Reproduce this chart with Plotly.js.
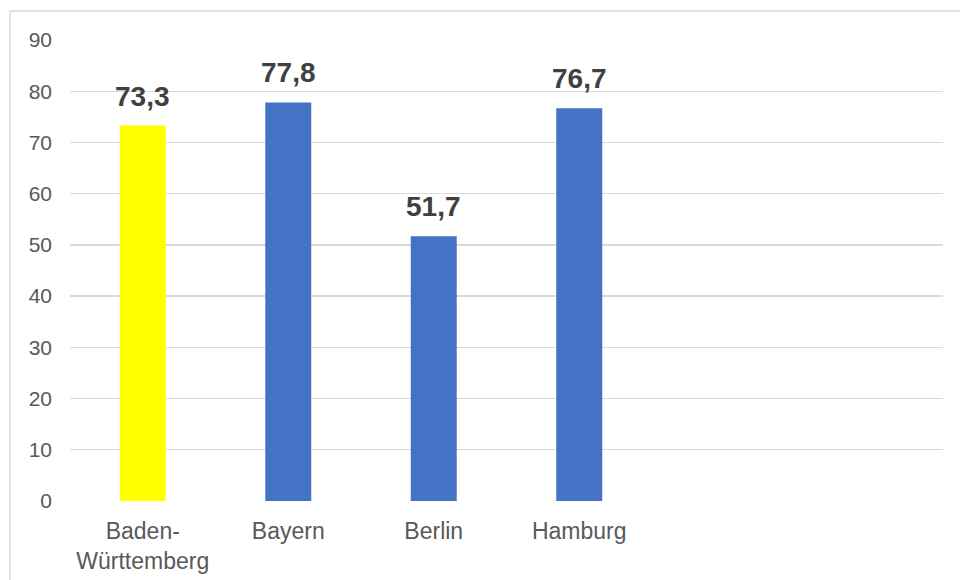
<!DOCTYPE html>
<html>
<head>
<meta charset="utf-8">
<script src="https://cdn.plot.ly/plotly-3.0.1.min.js"></script>
<style>html,body{margin:0;padding:0;background:#fff;}#chart{width:960px;height:580px;}</style>
</head>
<body>
<div id="chart"></div>
<script>
const categories = ["Baden-<br>Württemberg", "Bayern", "Berlin", "Hamburg"];
const values = [73.3, 77.8, 51.7, 76.7];
const barColors = ["#FFFF00", "#4472C4", "#4472C4", "#4472C4"];
const yTicks = [0, 10, 20, 30, 40, 50, 60, 70, 80, 90];

const fmt = v => v.toFixed(1).replace('.', ',');

const trace = {
  type: 'bar',
  x: categories,
  y: values,
  marker: {color: barColors},
  hoverinfo: 'none',
  cliponaxis: false
};

const annotations = categories.map((c, i) => ({
  x: c, y: values[i], xref: 'x', yref: 'y',
  text: fmt(values[i]),
  showarrow: false,
  yanchor: 'bottom',
  yshift: 12,
  font: {family: 'Liberation Sans, Arial, sans-serif', size: 28, color: '#404040', weight: 'bold'}
}));

const layout = {
  width: 960, height: 580,
  margin: {l: 70, r: 17, t: 40, b: 79},
  paper_bgcolor: '#ffffff', plot_bgcolor: '#ffffff',
  showlegend: false,
  bargap: 0.684,
  font: {family: 'Liberation Sans, Arial, sans-serif', color: '#595959'},
  xaxis: {
    type: 'category',
    range: [-0.5, 5.5],
    showgrid: false, zeroline: false, showline: false,
    ticks: '', ticklabelstandoff: 14,
    tickfont: {size: 23, color: '#595959'},
    fixedrange: true
  },
  yaxis: {
    range: [0, 90],
    tickvals: yTicks,
    ticktext: yTicks.map(String),
    showgrid: true, gridcolor: '#d9d9d9', gridwidth: 1.3,
    zeroline: false, showline: false,
    ticks: '', ticklabelstandoff: 17,
    tickfont: {size: 21, color: '#595959'},
    fixedrange: true
  },
  shapes: [{
    type: 'rect', xref: 'paper', yref: 'paper', layer: 'below',
    x0: -60/873, x1: 1.2, y0: -0.3, y1: 1 + 29/461,
    line: {color: '#d9d9d9', width: 1.3}, fillcolor: 'rgba(0,0,0,0)'
  }],
  annotations: annotations
};

Plotly.newPlot('chart', [trace], layout, {displayModeBar: false, staticPlot: true});
</script>
</body>
</html>
